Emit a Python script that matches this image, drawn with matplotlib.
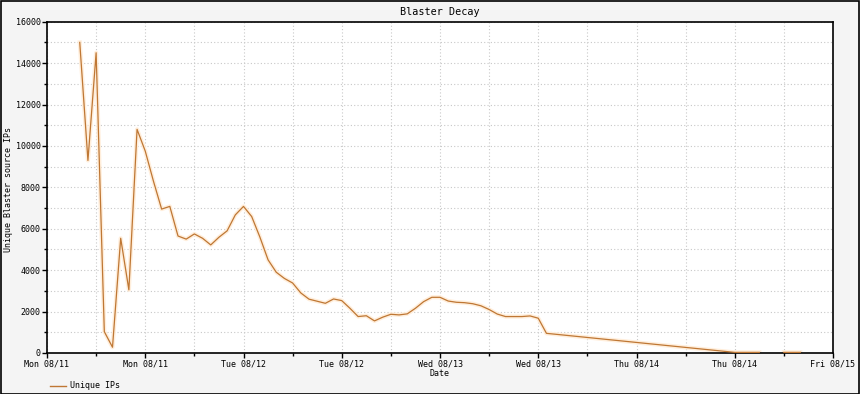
# imports
import datetime as dt
import numpy as np
import matplotlib
matplotlib.use("Agg")
import matplotlib.pyplot as plt
import matplotlib.dates as mdates
from matplotlib.patches import Rectangle

# data: hours after Mon 2003-08-11 00:00, unique source IPs (nan = no data)
hours = [4, 5, 6, 7, 8, 9, 10, 11, 12, 13, 14, 15, 16, 17, 18, 19, 20, 21, 22, 23,
         24, 25, 26, 27, 28, 29, 30, 31, 32, 33, 34, 35, 36, 37, 38, 39, 40, 41, 42, 43,
         44, 45, 46, 47, 48, 49, 50, 51, 52, 53, 54, 55, 56, 57, 58, 59, 60, 61,
         84, 85, 86, 87, 88, 90, 91, 92]
unique_ips = [15000, 9300, 14500, 1030, 280, 5540, 3050, 10800, 9750, 8300, 6950, 7080,
              5650, 5500, 5750, 5540, 5220, 5590, 5900, 6670,
              7080, 6590, 5600, 4500, 3900, 3600, 3380, 2900, 2600, 2500, 2400, 2610,
              2530, 2160, 1760, 1800, 1550, 1730, 1870, 1840,
              1890, 2160, 2480, 2690, 2690, 2510, 2450, 2430, 2380, 2280, 2100, 1880,
              1760, 1760, 1760, 1790, 1680, 950,
              30, 30, 30, 30, np.nan, 30, 30, 30]

start = dt.datetime(2003, 8, 11)
times = [start + dt.timedelta(hours=h) for h in hours]

W, H = 860, 394
fig = plt.figure(figsize=(W / 100, H / 100), dpi=100)
fig.patch.set_facecolor("#f4f4f4")
fig.patches.append(Rectangle((0.5 / W, 0.5 / H), 1 - 1.5 / W, 1 - 1.5 / H,
                             transform=fig.transFigure, fill=False,
                             edgecolor="black", linewidth=1.2))

ax = fig.add_axes([47 / W, (H - 353) / H, (833 - 47) / W, (353 - 21.7) / H])
ax.set_facecolor("white")

mono = "DejaVu Sans Mono"
fs = 6
line_col = "#bf7734"

# halo + line
ax.plot(times, unique_ips, color="#ffeedb", linewidth=3.0, zorder=2)
ax.plot(times, unique_ips, color=line_col, linewidth=0.9, zorder=3, label="Unique IPs")

ax.set_xlim(start, start + dt.timedelta(days=4))
ax.set_ylim(0, 16000)

ax.xaxis.set_major_locator(mdates.HourLocator(byhour=[0, 12]))
ax.xaxis.set_minor_locator(mdates.HourLocator(byhour=[6, 18]))
ax.xaxis.set_major_formatter(mdates.DateFormatter("%a %m/%d"))
ax.yaxis.set_major_locator(plt.MultipleLocator(2000))
ax.yaxis.set_minor_locator(plt.MultipleLocator(1000))

ax.grid(True, which="both", color="#c8c8c8", linestyle=(0, (1, 2)), linewidth=0.8)
ax.set_axisbelow(True)
ax.tick_params(which="major", direction="out", length=3.5, width=1, pad=1, labelsize=fs)
ax.tick_params(which="minor", direction="out", length=2, width=1)
for lab in ax.get_xticklabels() + ax.get_yticklabels():
    lab.set_family(mono)
for sp in ax.spines.values():
    sp.set_linewidth(1.2)

fig.text(440 / W, 1 - 12 / H, "Blaster Decay", ha="center", va="center",
         family=mono, fontsize=7.3)
fig.text(440 / W, 1 - 373 / H, "Date", ha="center", va="center", family=mono, fontsize=fs)
fig.text(9 / W, (H - 189) / H, "Unique Blaster source IPs", ha="center", va="center",
         rotation=90, family=mono, fontsize=fs)

# legend
fig.lines.append(plt.Line2D([50 / W, 66 / W], [1 - 386 / H, 1 - 386 / H],
                            transform=fig.transFigure, color=line_col, linewidth=1.0))
fig.text(70 / W, 1 - 386 / H, "Unique IPs", ha="left", va="center", family=mono, fontsize=fs)

fig.savefig("out.png", dpi=100, facecolor=fig.get_facecolor())
